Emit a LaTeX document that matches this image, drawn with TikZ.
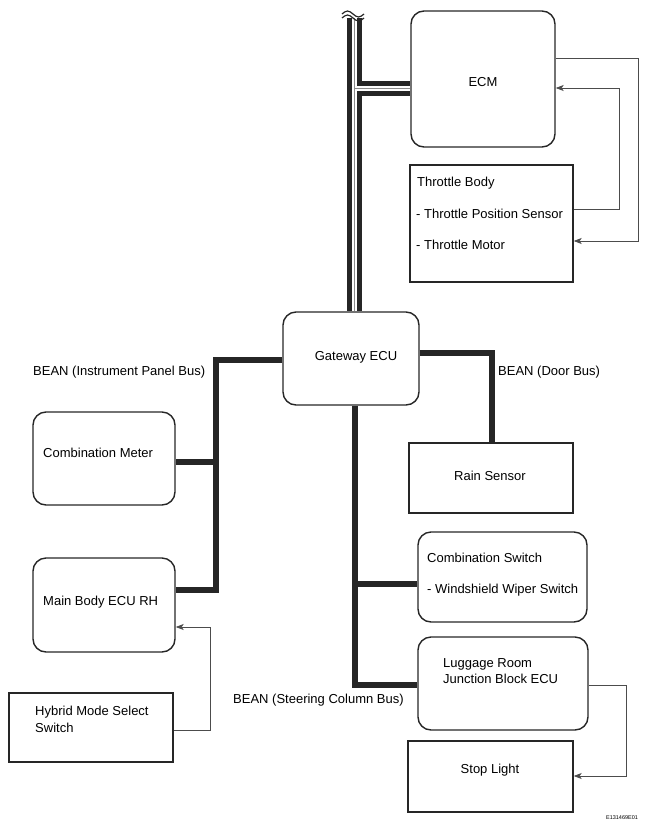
\documentclass[tikz,border=0pt]{standalone}
\usepackage{fontspec}
\setmainfont{Liberation Sans}
\usetikzlibrary{arrows.meta}
\begin{document}
\begin{tikzpicture}[x=1pt,y=-1pt,
  rbox/.style={draw=black!85,line width=1.4pt,rounded corners=13pt,inner sep=0pt},
  sbox/.style={draw=black!85,line width=1.4pt,inner sep=0pt},
  txt/.style={font=\fontsize{13}{15}\selectfont,inner sep=0pt},
  ltxt/.style={txt,anchor=west},
  bus/.style={line width=6pt,black!85},
  sig/.style={line width=0.8pt,black!70},
  sigarr/.style={sig,-{Stealth[length=8pt,width=6pt,inset=2pt]}}
]
\useasboundingbox (0,0) rectangle (663,836);
% boxes
\node[rbox,minimum width=144pt,minimum height=136pt] (ecm) at (483,79) {};
\node[txt] (ecmt) at (483,82) {ECM};
\node[sbox,minimum width=163pt,minimum height=117pt] (tb) at (491.5,223.5) {};
\node[ltxt] (tb1) at (417,183) {Throttle Body};
\node[ltxt] (tb2) at (416,214) {- Throttle Position Sensor};
\node[ltxt] (tb3) at (416,245) {- Throttle Motor};
\node[rbox,minimum width=136pt,minimum height=93pt] (gw) at (351,358.5) {};
\node[txt] (gwt) at (356,357) {Gateway ECU};
\node[rbox,minimum width=142pt,minimum height=93pt] (cm) at (104,458.5) {};
\node[ltxt] (cmt) at (43,453) {Combination Meter};
\node[rbox,minimum width=142pt,minimum height=94pt] (mb) at (104,605) {};
\node[ltxt] (mbt) at (43,602) {Main Body ECU RH};
\node[sbox,minimum width=164pt,minimum height=69pt] (hy) at (91,727.5) {};
\node[ltxt] (hy1) at (35,712) {Hybrid Mode Select};
\node[ltxt] (hy2) at (35,728) {Switch};
\node[sbox,minimum width=164pt,minimum height=70pt] (rs) at (491,478) {};
\node[txt] (rst) at (490,476) {Rain Sensor};
\node[rbox,minimum width=169pt,minimum height=90pt] (cs) at (502.5,577) {};
\node[ltxt] (cs1) at (427,558) {Combination Switch};
\node[ltxt] (cs2) at (427,590) {- Windshield Wiper Switch};
\node[rbox,minimum width=170pt,minimum height=93pt] (lr) at (503,683.5) {};
\node[ltxt] (lr1) at (443,664) {Luggage Room};
\node[ltxt] (lr2) at (443,679) {Junction Block ECU};
\node[sbox,minimum width=165pt,minimum height=71pt] (sl) at (490.5,776.5) {};
\node[txt] (slt) at (490,770) {Stop Light};
% labels
\node[ltxt] (l1) at (33,372) {BEAN (Instrument Panel Bus)};
\node[ltxt] (l2) at (498,372) {BEAN (Door Bus)};
\node[ltxt] (l3) at (233,700) {BEAN (Steering Column Bus)};
\node[font=\fontsize{5.5}{6}\selectfont,inner sep=0pt] (id) at (622,818) {E131469E01};
% double bus to ECM
\coordinate (btop) at (354.5,18);
\coordinate (bj) at (354.5,88);
\draw[line width=15pt,black!85] (btop) -- (btop |- gw.north);
\draw[line width=15pt,black!85] (bj) -- (bj -| ecm.west);
\draw[line width=5pt,white] (btop) -- (btop |- gw.north);
\draw[line width=5pt,white] (bj) -- (bj -| ecm.west);
\draw[line width=0.5pt,black!45] (btop) -- (btop |- gw.north);
\draw[line width=0.5pt,black!45] (bj) -- (bj -| ecm.west);
\draw[line width=1.2pt,black!85] (342,14) sin (347.5,11) cos (353,14) sin (358.5,17) cos (364,14);
\draw[line width=1.2pt,black!85] (342,18) sin (347.5,15) cos (353,18) sin (358.5,21) cos (364,18);
% left bus
\coordinate (la) at (216,360);
\coordinate (lb) at (216,590);
\coordinate (lc) at (216,462);
\draw[bus] (la -| gw.west) -- (la) -- (lb) -- (lb -| mb.east);
\draw[bus] (lc) -- (lc -| cm.east);
% right bus
\coordinate (ra) at (492,353);
\draw[bus] (ra -| gw.east) -- (ra) -- (ra |- rs.north);
% down bus
\coordinate (da) at (355,685);
\coordinate (db) at (355,584);
\draw[bus] (da |- gw.south) -- (da) -- (da -| lr.west);
\draw[bus] (db) -- (db -| cs.west);
% signal arrows
\coordinate (e1) at (638,58);
\coordinate (e2) at (638,241);
\draw[sigarr] (e1 -| ecm.east) -- (e1) -- (e2) -- (e2 -| tb.east);
\coordinate (f1) at (619,209);
\coordinate (f2) at (619,88);
\draw[sigarr] (f1 -| tb.east) -- (f1) -- (f2) -- (f2 -| ecm.east);
\coordinate (h1) at (210,730);
\coordinate (h2) at (210,627);
\draw[sigarr] (h1 -| hy.east) -- (h1) -- (h2) -- (h2 -| mb.east);
\coordinate (s1) at (626,685);
\coordinate (s2) at (626,776);
\draw[sigarr] (s1 -| lr.east) -- (s1) -- (s2) -- (s2 -| sl.east);
\end{tikzpicture}
\end{document}
